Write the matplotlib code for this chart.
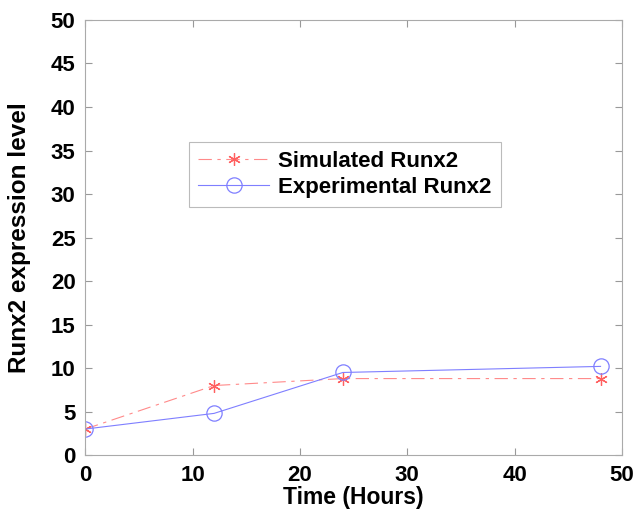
import numpy as np
import matplotlib
matplotlib.use("Agg")
import matplotlib.pyplot as plt

plt.rcParams['font.family'] = ['Liberation Sans', 'DejaVu Sans']
plt.rcParams['font.weight'] = 'bold'

# Runx2 expression over time
hours = [0, 12, 24, 48]
simulated = [3.0, 8.0, 8.8, 8.8]
experimental = [3.0, 4.8, 9.5, 10.2]

fig = plt.figure(figsize=(6.36, 5.12), dpi=100)
ax = fig.add_axes([0.134, 0.111, 0.844, 0.850])

ax.plot(hours, simulated, color='#ff8a8a', linestyle=(0, (12, 5, 3, 5)), linewidth=0.8,
        marker=(6, 2, 0), markersize=9, markeredgewidth=0.9, markeredgecolor='#ff6060',
        label='Simulated Runx2')
ax.plot(hours, experimental, color='#7f7fff', linestyle='-', linewidth=0.8,
        marker='o', markersize=11, markerfacecolor='none', markeredgewidth=0.9,
        label='Experimental Runx2')

ax.set_xlim(0, 50)
ax.set_ylim(0, 50)
ax.set_xticks(np.arange(0, 51, 10))
ax.set_yticks(np.arange(0, 51, 5))
ax.tick_params(direction='in', length=5, width=0.8, color='#999999', labelsize=16,
               top=True, right=True, pad=7)
for s in ax.spines.values():
    s.set_color('#aaaaaa')
    s.set_linewidth(0.8)

ax.set_xlabel('Time (Hours)', fontsize=16.5, fontweight='bold', labelpad=0)
ax.set_ylabel('Runx2 expression level', fontsize=17.5, fontweight='bold', labelpad=14)

leg = ax.legend(loc='upper left', bbox_to_anchor=(0.194, 0.72), fontsize=16,
                frameon=True, fancybox=False, handlelength=3.2, borderpad=0.4,
                labelspacing=0.25, handletextpad=0.4, borderaxespad=0)
leg.get_frame().set_edgecolor('#aaaaaa')
leg.get_frame().set_linewidth(0.8)

plt.savefig('out.png', dpi=100)
